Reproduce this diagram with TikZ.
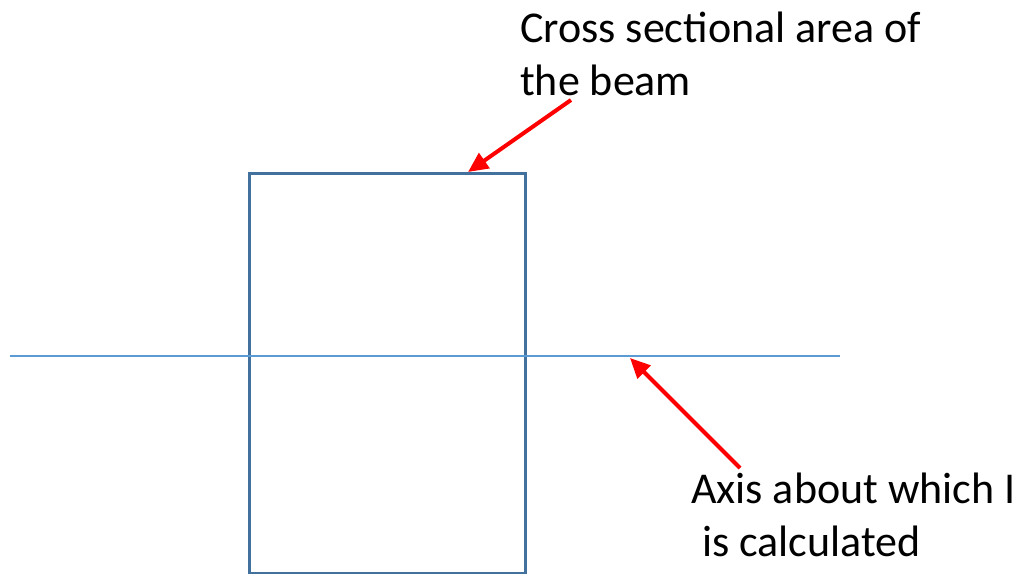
\documentclass[tikz,border=0pt]{standalone}
\usepackage{fontspec}
\setmainfont{Carlito}
\usetikzlibrary{arrows.meta, positioning}
\definecolor{beamblue}{HTML}{41719C}
\definecolor{axisblue}{HTML}{5B9BD5}

\begin{document}
\begin{tikzpicture}[
  x=1pt, y=-1pt,
  section/.style={
    draw=beamblue, line width=2.5pt, inner sep=0pt,
    minimum width=276pt, minimum height=400pt
  },
  note/.style={font=\fontsize{44}{53}\selectfont, align=left, inner sep=0pt},
  pointer/.style={-{Triangle[length=20pt, width=18pt]}, red, line width=4pt},
]
  \useasboundingbox (0,0) rectangle (1028,573);

  % Beam cross section
  \node[section, anchor=north west] (beam) at (248,172) {};

  % Neutral axis
  \coordinate (axisL) at (10,356);
  \coordinate (axisR) at (840,356);
  \draw[axisblue, line width=1.5pt] (axisL) -- (axisR);

  % Labels (base = last line)
  \node[note, anchor=base west] (areatxt) at (520,95) {Cross sectional area of\\the beam};
  \node[note, anchor=base west] (axistxt) at (691,556) {Axis about which I\\\hspace*{0.25em}is calculated};

  % Pointers
  \coordinate (areatail) at (571,100);
  \coordinate (areatip) at ([xshift=220pt]beam.north west);
  \coordinate (axistail) at (740,468);
  \coordinate (axistip) at (630,358);
  \draw[pointer] (areatail) -- (areatip);
  \draw[pointer] (axistail) -- (axistip);

\end{tikzpicture}
\end{document}
